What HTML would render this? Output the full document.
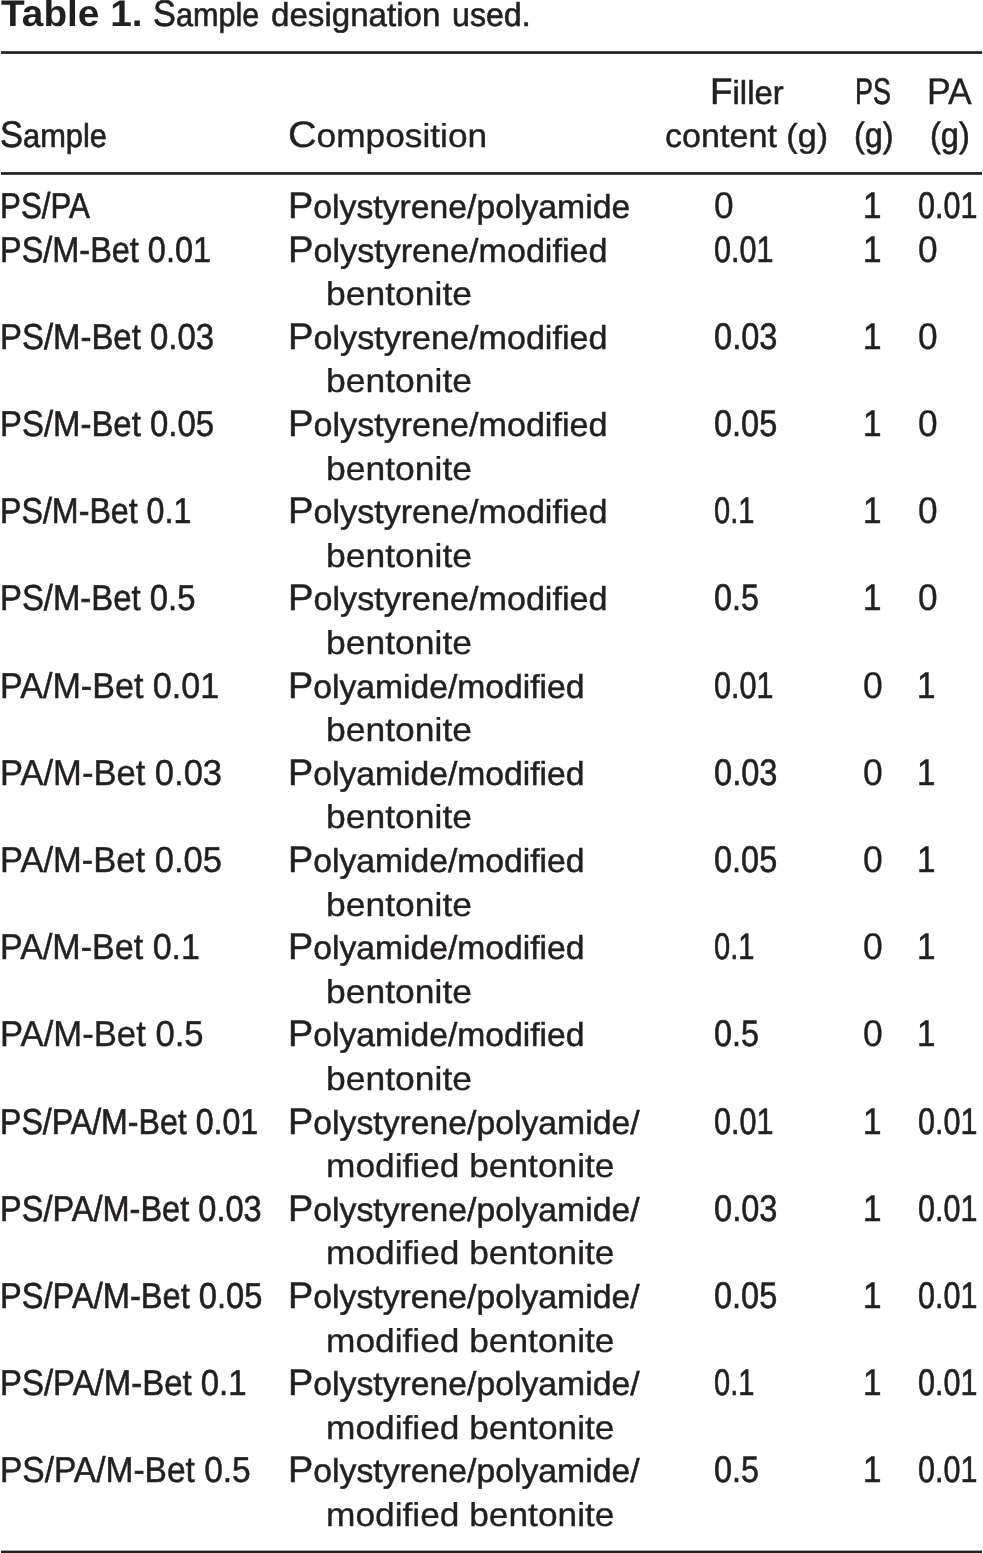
<!DOCTYPE html>
<html lang="en"><head><meta charset="utf-8"><title>Table 1. Sample designation used.</title>
<style>
html,body{margin:0;padding:0;background:#fff;}
body{width:983px;height:1553px;position:relative;overflow:hidden;font-family:"Liberation Sans",sans-serif;color:#231f20;text-rendering:geometricPrecision;}
.t{position:absolute;white-space:pre;line-height:40px;transform-origin:0 0;display:block;}
.b{font-weight:bold;}
.c{font-size:37px;line-height:0;}
svg{position:absolute;left:0;top:0;}
#w{position:absolute;left:0;top:0;width:983px;height:1553px;will-change:transform;}
</style></head><body>
<svg width="983" height="1553" viewBox="0 0 983 1553"><g fill="#231f20">
<rect x="1" y="51.2" width="981" height="2.7"/>
<rect x="1" y="172.1" width="981" height="2.7"/>
<rect x="1" y="1550.6" width="981" height="2.7"/>
</g></svg>
<div id="w">
<span class="t b" style="left:1.08px;top:-6px;font-size:37px;transform:scaleX(1.0485)">Table 1.</span>
<span class="t" style="left:152.88px;top:-5px;font-size:33px;transform:scaleX(0.9276);-webkit-text-stroke:0.65px #231f20"><span class="c">S</span>ample</span>
<span class="t" style="left:271.37px;top:-5px;font-size:33px;transform:scaleX(1.0036);-webkit-text-stroke:0.55px #231f20">designation</span>
<span class="t" style="left:451.92px;top:-5px;font-size:33px;transform:scaleX(0.9745);-webkit-text-stroke:0.64px #231f20">used.</span>
<span class="t" style="left:0.17px;top:116px;font-size:33px;transform:scaleX(0.9339);-webkit-text-stroke:0.65px #231f20"><span class="c">S</span>ample</span>
<span class="t" style="left:287.85px;top:116px;font-size:33px;transform:scaleX(1.0690);-webkit-text-stroke:0.35px #231f20"><span class="c">C</span>omposition</span>
<span class="t" style="left:710.00px;top:73px;font-size:33px;transform:scaleX(0.9968);-webkit-text-stroke:0.57px #231f20"><span class="c">F</span>iller</span>
<span class="t" style="left:665.39px;top:116px;font-size:33px;transform:scaleX(1.0335);-webkit-text-stroke:0.46px #231f20">content (g)</span>
<span class="t" style="left:855.26px;top:72px;font-size:37px;transform:scaleX(0.7269);-webkit-text-stroke:0.65px #231f20">PS</span>
<span class="t" style="left:853.51px;top:116px;font-size:35px;transform:scaleX(0.9234);-webkit-text-stroke:0.63px #231f20">(g)</span>
<span class="t" style="left:927.18px;top:72px;font-size:37px;transform:scaleX(0.9605);-webkit-text-stroke:0.33px #231f20">PA</span>
<span class="t" style="left:930.09px;top:116px;font-size:35px;transform:scaleX(0.9290);-webkit-text-stroke:0.61px #231f20">(g)</span>
<span class="t" style="left:0.37px;top:186px;font-size:36px;transform:scaleX(0.8702);-webkit-text-stroke:0.65px #231f20">PS/PA</span>
<span class="t" style="left:287.99px;top:187px;font-size:33px;transform:scaleX(1.0225);-webkit-text-stroke:0.50px #231f20"><span class="c">P</span>olystyrene/polyamide</span>
<span class="t" style="left:714.04px;top:186px;font-size:37px;transform:scaleX(0.9520);-webkit-text-stroke:0.36px #231f20">0</span>
<span class="t" style="left:862.83px;top:186px;font-size:37px;transform:scaleX(0.9000);-webkit-text-stroke:0.54px #231f20">1</span>
<span class="t" style="left:917.93px;top:186px;font-size:37px;transform:scaleX(0.8242);-webkit-text-stroke:0.65px #231f20">0.01</span>
<span class="t" style="left:0.27px;top:230px;font-size:36px;transform:scaleX(0.9014);-webkit-text-stroke:0.61px #231f20">PS/M-Bet 0.01</span>
<span class="t" style="left:287.94px;top:231px;font-size:33px;transform:scaleX(1.0338);-webkit-text-stroke:0.46px #231f20"><span class="c">P</span>olystyrene/modified</span>
<span class="t" style="left:325.96px;top:274px;font-size:33px;transform:scaleX(1.0753);-webkit-text-stroke:0.34px #231f20">bentonite</span>
<span class="t" style="left:714.33px;top:230px;font-size:37px;transform:scaleX(0.8256);-webkit-text-stroke:0.65px #231f20">0.01</span>
<span class="t" style="left:862.83px;top:230px;font-size:37px;transform:scaleX(0.9000);-webkit-text-stroke:0.54px #231f20">1</span>
<span class="t" style="left:917.64px;top:230px;font-size:37px;transform:scaleX(0.9520);-webkit-text-stroke:0.36px #231f20">0</span>
<span class="t" style="left:0.22px;top:317px;font-size:36px;transform:scaleX(0.9141);-webkit-text-stroke:0.57px #231f20">PS/M-Bet 0.03</span>
<span class="t" style="left:287.94px;top:318px;font-size:33px;transform:scaleX(1.0338);-webkit-text-stroke:0.46px #231f20"><span class="c">P</span>olystyrene/modified</span>
<span class="t" style="left:325.96px;top:361px;font-size:33px;transform:scaleX(1.0753);-webkit-text-stroke:0.34px #231f20">bentonite</span>
<span class="t" style="left:714.24px;top:317px;font-size:37px;transform:scaleX(0.8810);-webkit-text-stroke:0.60px #231f20">0.03</span>
<span class="t" style="left:862.83px;top:317px;font-size:37px;transform:scaleX(0.9000);-webkit-text-stroke:0.54px #231f20">1</span>
<span class="t" style="left:917.64px;top:317px;font-size:37px;transform:scaleX(0.9520);-webkit-text-stroke:0.36px #231f20">0</span>
<span class="t" style="left:0.22px;top:404px;font-size:36px;transform:scaleX(0.9141);-webkit-text-stroke:0.57px #231f20">PS/M-Bet 0.05</span>
<span class="t" style="left:287.94px;top:405px;font-size:33px;transform:scaleX(1.0338);-webkit-text-stroke:0.46px #231f20"><span class="c">P</span>olystyrene/modified</span>
<span class="t" style="left:325.96px;top:449px;font-size:33px;transform:scaleX(1.0753);-webkit-text-stroke:0.34px #231f20">bentonite</span>
<span class="t" style="left:714.25px;top:404px;font-size:37px;transform:scaleX(0.8777);-webkit-text-stroke:0.61px #231f20">0.05</span>
<span class="t" style="left:862.83px;top:404px;font-size:37px;transform:scaleX(0.9000);-webkit-text-stroke:0.54px #231f20">1</span>
<span class="t" style="left:917.64px;top:404px;font-size:37px;transform:scaleX(0.9520);-webkit-text-stroke:0.36px #231f20">0</span>
<span class="t" style="left:0.30px;top:491px;font-size:36px;transform:scaleX(0.8938);-webkit-text-stroke:0.64px #231f20">PS/M-Bet 0.1</span>
<span class="t" style="left:287.94px;top:492px;font-size:33px;transform:scaleX(1.0338);-webkit-text-stroke:0.46px #231f20"><span class="c">P</span>olystyrene/modified</span>
<span class="t" style="left:325.96px;top:536px;font-size:33px;transform:scaleX(1.0753);-webkit-text-stroke:0.34px #231f20">bentonite</span>
<span class="t" style="left:714.38px;top:491px;font-size:37px;transform:scaleX(0.7852);-webkit-text-stroke:0.65px #231f20">0.1</span>
<span class="t" style="left:862.83px;top:491px;font-size:37px;transform:scaleX(0.9000);-webkit-text-stroke:0.54px #231f20">1</span>
<span class="t" style="left:917.64px;top:491px;font-size:37px;transform:scaleX(0.9520);-webkit-text-stroke:0.36px #231f20">0</span>
<span class="t" style="left:0.22px;top:578px;font-size:36px;transform:scaleX(0.9130);-webkit-text-stroke:0.58px #231f20">PS/M-Bet 0.5</span>
<span class="t" style="left:287.94px;top:579px;font-size:33px;transform:scaleX(1.0338);-webkit-text-stroke:0.46px #231f20"><span class="c">P</span>olystyrene/modified</span>
<span class="t" style="left:325.96px;top:623px;font-size:33px;transform:scaleX(1.0753);-webkit-text-stroke:0.34px #231f20">bentonite</span>
<span class="t" style="left:714.26px;top:578px;font-size:37px;transform:scaleX(0.8736);-webkit-text-stroke:0.63px #231f20">0.5</span>
<span class="t" style="left:862.83px;top:578px;font-size:37px;transform:scaleX(0.9000);-webkit-text-stroke:0.54px #231f20">1</span>
<span class="t" style="left:917.64px;top:578px;font-size:37px;transform:scaleX(0.9520);-webkit-text-stroke:0.36px #231f20">0</span>
<span class="t" style="left:0.08px;top:666px;font-size:36px;transform:scaleX(0.9471);-webkit-text-stroke:0.46px #231f20">PA/M-Bet 0.01</span>
<span class="t" style="left:288.00px;top:667px;font-size:33px;transform:scaleX(1.0203);-webkit-text-stroke:0.50px #231f20"><span class="c">P</span>olyamide/modified</span>
<span class="t" style="left:325.96px;top:710px;font-size:33px;transform:scaleX(1.0753);-webkit-text-stroke:0.34px #231f20">bentonite</span>
<span class="t" style="left:714.33px;top:666px;font-size:37px;transform:scaleX(0.8256);-webkit-text-stroke:0.65px #231f20">0.01</span>
<span class="t" style="left:863.12px;top:666px;font-size:37px;transform:scaleX(0.9588);-webkit-text-stroke:0.33px #231f20">0</span>
<span class="t" style="left:916.58px;top:666px;font-size:37px;transform:scaleX(0.9000);-webkit-text-stroke:0.54px #231f20">1</span>
<span class="t" style="left:0.02px;top:753px;font-size:36px;transform:scaleX(0.9596);-webkit-text-stroke:0.42px #231f20">PA/M-Bet 0.03</span>
<span class="t" style="left:288.00px;top:754px;font-size:33px;transform:scaleX(1.0203);-webkit-text-stroke:0.50px #231f20"><span class="c">P</span>olyamide/modified</span>
<span class="t" style="left:325.96px;top:797px;font-size:33px;transform:scaleX(1.0753);-webkit-text-stroke:0.34px #231f20">bentonite</span>
<span class="t" style="left:714.24px;top:753px;font-size:37px;transform:scaleX(0.8810);-webkit-text-stroke:0.60px #231f20">0.03</span>
<span class="t" style="left:863.12px;top:753px;font-size:37px;transform:scaleX(0.9588);-webkit-text-stroke:0.33px #231f20">0</span>
<span class="t" style="left:916.58px;top:753px;font-size:37px;transform:scaleX(0.9000);-webkit-text-stroke:0.54px #231f20">1</span>
<span class="t" style="left:0.03px;top:840px;font-size:36px;transform:scaleX(0.9586);-webkit-text-stroke:0.43px #231f20">PA/M-Bet 0.05</span>
<span class="t" style="left:288.00px;top:841px;font-size:33px;transform:scaleX(1.0203);-webkit-text-stroke:0.50px #231f20"><span class="c">P</span>olyamide/modified</span>
<span class="t" style="left:325.96px;top:885px;font-size:33px;transform:scaleX(1.0753);-webkit-text-stroke:0.34px #231f20">bentonite</span>
<span class="t" style="left:714.25px;top:840px;font-size:37px;transform:scaleX(0.8777);-webkit-text-stroke:0.61px #231f20">0.05</span>
<span class="t" style="left:863.12px;top:840px;font-size:37px;transform:scaleX(0.9588);-webkit-text-stroke:0.33px #231f20">0</span>
<span class="t" style="left:916.58px;top:840px;font-size:37px;transform:scaleX(0.9000);-webkit-text-stroke:0.54px #231f20">1</span>
<span class="t" style="left:0.08px;top:927px;font-size:36px;transform:scaleX(0.9460);-webkit-text-stroke:0.47px #231f20">PA/M-Bet 0.1</span>
<span class="t" style="left:288.00px;top:928px;font-size:33px;transform:scaleX(1.0203);-webkit-text-stroke:0.50px #231f20"><span class="c">P</span>olyamide/modified</span>
<span class="t" style="left:325.96px;top:972px;font-size:33px;transform:scaleX(1.0753);-webkit-text-stroke:0.34px #231f20">bentonite</span>
<span class="t" style="left:714.38px;top:927px;font-size:37px;transform:scaleX(0.7852);-webkit-text-stroke:0.65px #231f20">0.1</span>
<span class="t" style="left:863.12px;top:927px;font-size:37px;transform:scaleX(0.9588);-webkit-text-stroke:0.33px #231f20">0</span>
<span class="t" style="left:916.58px;top:927px;font-size:37px;transform:scaleX(0.9000);-webkit-text-stroke:0.54px #231f20">1</span>
<span class="t" style="left:0.01px;top:1014px;font-size:36px;transform:scaleX(0.9630);-webkit-text-stroke:0.41px #231f20">PA/M-Bet 0.5</span>
<span class="t" style="left:288.00px;top:1015px;font-size:33px;transform:scaleX(1.0203);-webkit-text-stroke:0.50px #231f20"><span class="c">P</span>olyamide/modified</span>
<span class="t" style="left:325.96px;top:1059px;font-size:33px;transform:scaleX(1.0753);-webkit-text-stroke:0.34px #231f20">bentonite</span>
<span class="t" style="left:714.26px;top:1014px;font-size:37px;transform:scaleX(0.8736);-webkit-text-stroke:0.63px #231f20">0.5</span>
<span class="t" style="left:863.12px;top:1014px;font-size:37px;transform:scaleX(0.9588);-webkit-text-stroke:0.33px #231f20">0</span>
<span class="t" style="left:916.58px;top:1014px;font-size:37px;transform:scaleX(0.9000);-webkit-text-stroke:0.54px #231f20">1</span>
<span class="t" style="left:0.31px;top:1102px;font-size:36px;transform:scaleX(0.8917);-webkit-text-stroke:0.65px #231f20">PS/PA/M-Bet 0.01</span>
<span class="t" style="left:287.98px;top:1103px;font-size:33px;transform:scaleX(1.0227);-webkit-text-stroke:0.50px #231f20"><span class="c">P</span>olystyrene/polyamide/</span>
<span class="t" style="left:326.08px;top:1146px;font-size:33px;transform:scaleX(1.0696);-webkit-text-stroke:0.35px #231f20">modified bentonite</span>
<span class="t" style="left:714.33px;top:1102px;font-size:37px;transform:scaleX(0.8256);-webkit-text-stroke:0.65px #231f20">0.01</span>
<span class="t" style="left:862.83px;top:1102px;font-size:37px;transform:scaleX(0.9000);-webkit-text-stroke:0.54px #231f20">1</span>
<span class="t" style="left:917.93px;top:1102px;font-size:37px;transform:scaleX(0.8242);-webkit-text-stroke:0.65px #231f20">0.01</span>
<span class="t" style="left:0.26px;top:1189px;font-size:36px;transform:scaleX(0.9038);-webkit-text-stroke:0.61px #231f20">PS/PA/M-Bet 0.03</span>
<span class="t" style="left:287.98px;top:1190px;font-size:33px;transform:scaleX(1.0227);-webkit-text-stroke:0.50px #231f20"><span class="c">P</span>olystyrene/polyamide/</span>
<span class="t" style="left:326.08px;top:1233px;font-size:33px;transform:scaleX(1.0696);-webkit-text-stroke:0.35px #231f20">modified bentonite</span>
<span class="t" style="left:714.24px;top:1189px;font-size:37px;transform:scaleX(0.8810);-webkit-text-stroke:0.60px #231f20">0.03</span>
<span class="t" style="left:862.83px;top:1189px;font-size:37px;transform:scaleX(0.9000);-webkit-text-stroke:0.54px #231f20">1</span>
<span class="t" style="left:917.93px;top:1189px;font-size:37px;transform:scaleX(0.8242);-webkit-text-stroke:0.65px #231f20">0.01</span>
<span class="t" style="left:0.25px;top:1276px;font-size:36px;transform:scaleX(0.9062);-webkit-text-stroke:0.60px #231f20">PS/PA/M-Bet 0.05</span>
<span class="t" style="left:287.98px;top:1277px;font-size:33px;transform:scaleX(1.0227);-webkit-text-stroke:0.50px #231f20"><span class="c">P</span>olystyrene/polyamide/</span>
<span class="t" style="left:326.08px;top:1321px;font-size:33px;transform:scaleX(1.0696);-webkit-text-stroke:0.35px #231f20">modified bentonite</span>
<span class="t" style="left:714.25px;top:1276px;font-size:37px;transform:scaleX(0.8777);-webkit-text-stroke:0.61px #231f20">0.05</span>
<span class="t" style="left:862.83px;top:1276px;font-size:37px;transform:scaleX(0.9000);-webkit-text-stroke:0.54px #231f20">1</span>
<span class="t" style="left:917.93px;top:1276px;font-size:37px;transform:scaleX(0.8242);-webkit-text-stroke:0.65px #231f20">0.01</span>
<span class="t" style="left:0.22px;top:1363px;font-size:36px;transform:scaleX(0.9151);-webkit-text-stroke:0.57px #231f20">PS/PA/M-Bet 0.1</span>
<span class="t" style="left:287.98px;top:1364px;font-size:33px;transform:scaleX(1.0227);-webkit-text-stroke:0.50px #231f20"><span class="c">P</span>olystyrene/polyamide/</span>
<span class="t" style="left:326.08px;top:1408px;font-size:33px;transform:scaleX(1.0696);-webkit-text-stroke:0.35px #231f20">modified bentonite</span>
<span class="t" style="left:714.38px;top:1363px;font-size:37px;transform:scaleX(0.7852);-webkit-text-stroke:0.65px #231f20">0.1</span>
<span class="t" style="left:862.83px;top:1363px;font-size:37px;transform:scaleX(0.9000);-webkit-text-stroke:0.54px #231f20">1</span>
<span class="t" style="left:917.93px;top:1363px;font-size:37px;transform:scaleX(0.8242);-webkit-text-stroke:0.65px #231f20">0.01</span>
<span class="t" style="left:0.15px;top:1450px;font-size:36px;transform:scaleX(0.9306);-webkit-text-stroke:0.52px #231f20">PS/PA/M-Bet 0.5</span>
<span class="t" style="left:287.98px;top:1451px;font-size:33px;transform:scaleX(1.0227);-webkit-text-stroke:0.50px #231f20"><span class="c">P</span>olystyrene/polyamide/</span>
<span class="t" style="left:326.08px;top:1495px;font-size:33px;transform:scaleX(1.0696);-webkit-text-stroke:0.35px #231f20">modified bentonite</span>
<span class="t" style="left:714.26px;top:1450px;font-size:37px;transform:scaleX(0.8736);-webkit-text-stroke:0.63px #231f20">0.5</span>
<span class="t" style="left:862.83px;top:1450px;font-size:37px;transform:scaleX(0.9000);-webkit-text-stroke:0.54px #231f20">1</span>
<span class="t" style="left:917.93px;top:1450px;font-size:37px;transform:scaleX(0.8242);-webkit-text-stroke:0.65px #231f20">0.01</span>
</div>
</body></html>
